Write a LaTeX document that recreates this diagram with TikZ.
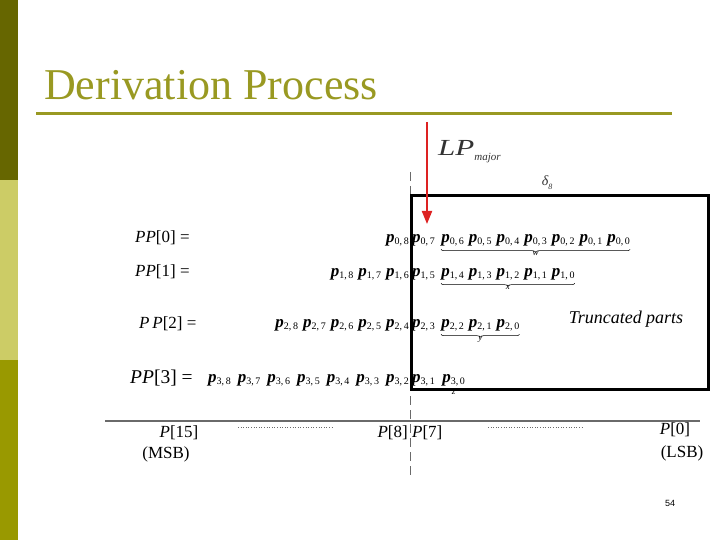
\documentclass[tikz,border=0pt]{standalone}
\usepackage{fontspec}
\setmainfont{Liberation Serif}
\newfontfamily\numfont{Liberation Sans}
\usetikzlibrary{arrows.meta,decorations.pathreplacing}
\definecolor{barA}{HTML}{666600}
\definecolor{barB}{HTML}{CCCC66}
\definecolor{barC}{HTML}{999900}
\definecolor{titlecol}{HTML}{999922}
\definecolor{arrowred}{HTML}{DD2222}
\definecolor{axisgray}{HTML}{6A6A6A}
\newlength\pgap
\setlength\pgap{5pt}
\newcommand\pb[2]{{\fontsize{17}{17}\selectfont\bfseries\itshape p}{\fontsize{10}{10}\selectfont\raisebox{-2.5pt}{#1,\,#2}}\hspace{\pgap}}
\tikzset{
  rowtxt/.style={inner sep=0pt, font=\fontsize{17}{17}\selectfont},
  pplab/.style={inner sep=0pt, anchor=base west, font=\fontsize{17}{17}\selectfont},
  axlab/.style={inner sep=0pt, font=\fontsize{17}{17}\selectfont},
  dotline/.style={axisgray, line width=0.6pt, dotted},
  ubrace/.style={decorate, decoration={brace, mirror, amplitude=3pt}, line width=0.5pt},
  brlab/.style={inner sep=0pt, below=2pt, font=\fontsize{9}{9}\selectfont\itshape},
}
\begin{document}
\begin{tikzpicture}[x=1pt,y=-1pt]
\useasboundingbox (0,0) rectangle (720,540);
% left bar
\fill[barA] (0,0) rectangle (18,180);
\fill[barB] (0,180) rectangle (18,360);
\fill[barC] (0,360) rectangle (18,540);
% title
\node[anchor=base west, inner sep=0pt, text=titlecol, font=\fontsize{44}{44}\selectfont] (title) at (44,100) {Derivation Process};
\coordinate (ulA) at (36,114);
\coordinate (ulB) at (672,114);
\draw[titlecol, line width=3pt] (ulA) -- (ulB);
% dashed vertical divider
\coordinate (divT) at (410,172);
\coordinate (divB) at (410,476);
\draw[axisgray, line width=0.6pt, dash pattern=on 9pt off 5pt] (divT) -- (divB);
% truncated box
\node[draw, line width=3.2pt, minimum width=297pt, minimum height=194pt, anchor=north west, inner sep=0pt] (box) at (410,194) {};
% LP major arrow
\coordinate (arrTop) at (427,122);
\coordinate (arrTip) at (427,224);
\draw[arrowred, line width=2pt, -{Triangle[width=10pt,length=13pt]}] (arrTop) -- (arrTip);
\node[anchor=base west, inner sep=0pt, text=black!80, font=\fontsize{23}{23}\selectfont\itshape] (lp) at (438,156) {\scalebox{1.35}[1]{LP}\raisebox{-5pt}{\fontsize{11}{11}\selectfont major}};
\node[anchor=base, inner sep=0pt, text=black!80, font=\fontsize{14}{14}\selectfont\itshape] (delta) at (547,186) {δ\raisebox{-3pt}{\fontsize{8}{8}\selectfont 8}};
% PP labels
\node[pplab] (pp0) at (135,242) {\textit{PP}[0] =};
\node[pplab] (pp1) at (135,276) {\textit{PP}[1] =};
\node[pplab] (pp2) at (139,328) {\textit{P\,P}[2] =};
\node[pplab, font=\fontsize{19.5}{19.5}\selectfont] (pp3) at (130,383) {\textit{PP}[3] =};
% row 0
\node[rowtxt, anchor=base east] (r0l) at (409,242) {\pb08};
\node[rowtxt, anchor=base west] (r0r) at (412,242) {\pb07};
\node[rowtxt, anchor=base west] (r0b) at ([xshift=6pt]r0r.base east) {\pb06\pb05\pb04\pb03\pb02\pb01\setlength\pgap{0pt}\pb00};
\draw[ubrace] ([yshift=-3pt]r0b.south west) -- ([yshift=-3pt]r0b.south east) node[midway, brlab] (lw) {w};
% row 1
\node[rowtxt, anchor=base east] (r1l) at (409,276) {\pb18\pb17\pb16};
\node[rowtxt, anchor=base west] (r1r) at (412,276) {\pb15};
\node[rowtxt, anchor=base west] (r1b) at ([xshift=6pt]r1r.base east) {\pb14\pb13\pb12\pb11\setlength\pgap{0pt}\pb10};
\draw[ubrace] ([yshift=-3pt]r1b.south west) -- ([yshift=-3pt]r1b.south east) node[midway, brlab] (lx) {x};
% row 2
\node[rowtxt, anchor=base east] (r2l) at (409,327) {\pb28\pb27\pb26\pb25\pb24};
\node[rowtxt, anchor=base west] (r2r) at (412,327) {\pb23};
\node[rowtxt, anchor=base west] (r2b) at ([xshift=6pt]r2r.base east) {\pb22\pb21\setlength\pgap{0pt}\pb20};
\draw[ubrace] ([yshift=-3pt]r2b.south west) -- ([yshift=-3pt]r2b.south east) node[midway, brlab] (ly) {y};
% row 3
\node[rowtxt, anchor=base east] (r3l) at (409,382) {\setlength\pgap{7pt}\pb38\pb37\pb36\pb35\pb34\pb33\pb32};
\node[rowtxt, anchor=base west] (r3r) at (412,382) {\pb31};
\node[rowtxt, anchor=base west] (r3b) at ([xshift=7pt]r3r.base east) {\setlength\pgap{0pt}\pb30};
\draw[ubrace, decoration={amplitude=2pt}] ([yshift=-2pt]r3b.south west) -- ([yshift=-2pt]r3b.south east) node[midway, brlab] (lz) {z};
% truncated parts
\node[inner sep=0pt, font=\fontsize{18}{18}\selectfont\itshape] (trunc) at (626,319) {Truncated parts};
% axis
\coordinate (axL) at (105,421);
\coordinate (axR) at (700,421);
\draw[axisgray, line width=1.4pt] (axL) -- (axR);
\node[axlab, anchor=base] (p15) at (179,437) {\textit{P}[15]};
\node[axlab, anchor=base] (msb) at (166,458) {(MSB)};
\node[axlab, anchor=base east] (p8) at (408,437) {\textit{P}[8]};
\node[axlab, anchor=base west] (p7) at (412,437) {\textit{P}[7]};
\node[axlab, anchor=base] (p0) at (675,434) {\textit{P}[0]};
\node[axlab, anchor=base] (lsb) at (682,457) {(LSB)};
\coordinate (d1a) at (238,427);
\coordinate (d1b) at (332,427);
\coordinate (d2a) at (488,427);
\coordinate (d2b) at (583,427);
\draw[dotline] (d1a) -- (d1b);
\draw[dotline] (d2a) -- (d2b);
% slide number
\node[inner sep=0pt, font=\numfont\fontsize{9}{9}\selectfont] (num) at (670,503) {54};
\end{tikzpicture}
\end{document}
